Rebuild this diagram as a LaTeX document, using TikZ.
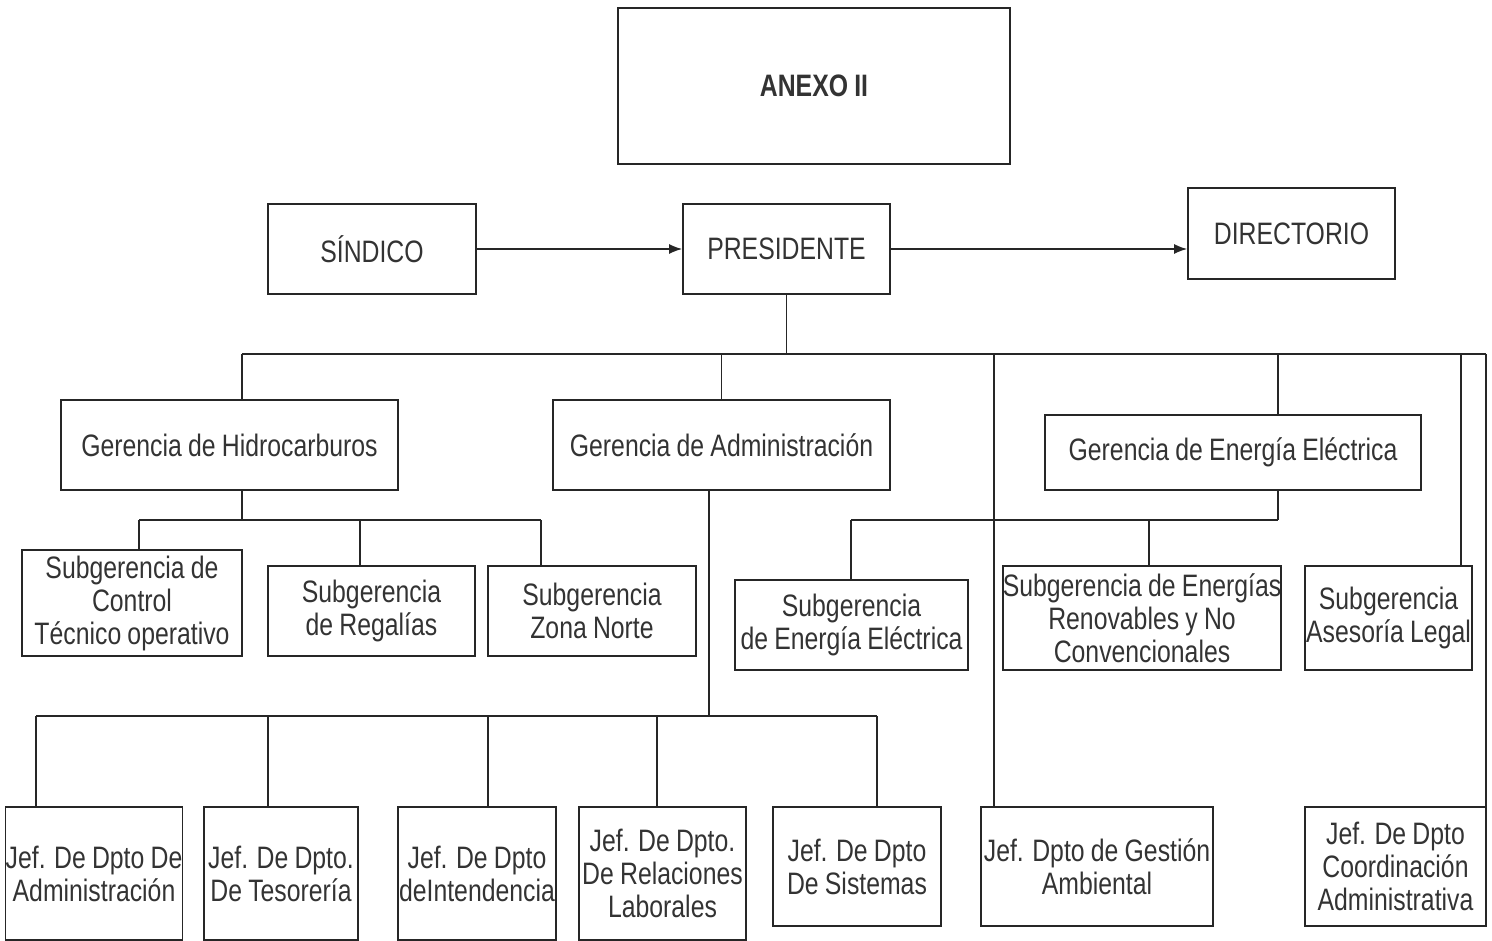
\documentclass[tikz,border=0pt]{standalone}
\usepackage{fontspec}
\setmainfont[FakeStretch=0.8, WordSpace=0.9]{Liberation Sans}
\usetikzlibrary{arrows.meta}
\definecolor{tinta}{HTML}{262626}
\definecolor{letra}{HTML}{333333}
\tikzset{
  caja/.style={draw=tinta, text=letra, rectangle, line width=1.6pt, align=center,
    inner sep=0pt, font=\fontsize{31}{33}\selectfont},
  linea/.style={draw=tinta, line width=1.6pt},
  flecha/.style={draw=tinta, line width=1.6pt, -{Latex[length=13pt,width=10pt]}}
}
\begin{document}
\begin{tikzpicture}[x=1pt,y=-1pt]
    \pgfmathsetmacro{\ybus}{354}
    \pgfmathsetmacro{\ysubA}{520}
    \pgfmathsetmacro{\ysubB}{716}
    \useasboundingbox (0,0) rectangle (1492,941);
    % cabecera
    \node[caja, minimum width=392, minimum height=156] (anexo) at (814,86) {\bfseries ANEXO II};
    \node[caja, minimum width=208, minimum height=90] (sindico) at (372,249) {SÍNDICO};
    \node[caja, minimum width=207, minimum height=90] (pres) at (786.5,249) {PRESIDENTE};
    \node[caja, minimum width=207, minimum height=91] (dir) at (1291.5,233.5) {DIRECTORIO};
    % gerencias
    \node[caja, minimum width=337, minimum height=90] (hidro) at (229.5,445) {Gerencia de Hidrocarburos};
    \node[caja, minimum width=337, minimum height=90] (admin) at (721.5,445) {Gerencia de Administración};
    \node[caja, minimum width=376, minimum height=75] (energia) at (1233,452.5) {Gerencia de Energía  Eléctrica};
    % subgerencias
    \node[caja, minimum width=220, minimum height=106] (sControl) at (132,603) {Subgerencia de\\Control\\Técnico operativo};
    \node[caja, minimum width=207, minimum height=90] (sRegalias) at (371.5,611) {Subgerencia\\de Regalías};
    \node[caja, minimum width=208, minimum height=90] (sNorte) at (592,611) {Subgerencia\\Zona Norte};
    \node[caja, minimum width=233, minimum height=90] (sEnergia) at (851.5,625) {Subgerencia\\de Energía  Eléctrica};
    \node[caja, minimum width=272, minimum height=104] (sRenov) at (1142,618) {Subgerencia de Energías\\Renovables y No\\Convencionales};
    \node[caja, minimum width=167, minimum height=104] (sLegal) at (1388.5,618) {Subgerencia\\Asesoría Legal};
    % jefaturas
    \node[caja, minimum width=168, minimum height=133] (jAdmin) at (94,873.5) {Jef. De Dpto De\\Administración};
    \node[caja, minimum width=154, minimum height=133] (jTesoreria) at (281,873.5) {Jef. De Dpto.\\De Tesorería};
    \node[caja, minimum width=158, minimum height=133] (jIntend) at (477,873.5) {Jef. De Dpto\\deIntendencia};
    \node[caja, minimum width=167, minimum height=133] (jRel) at (662.5,873.5) {Jef. De Dpto.\\De Relaciones\\Laborales};
    \node[caja, minimum width=168, minimum height=119] (jSist) at (857,866.5) {Jef. De Dpto\\De Sistemas};
    \node[caja, minimum width=232, minimum height=119] (jGest) at (1097,866.5) {Jef. Dpto de Gestión\\Ambiental};
    \node[caja, minimum width=181, minimum height=119] (jCoord) at (1395.5,866.5) {Jef. De Dpto\\Coordinación\\Administrativa};
    % flechas
    \draw[flecha] (sindico) -- (pres);
    \draw[flecha] (pres.east) -- (pres.east -| dir.west);
    % bus principal
    \coordinate (bPres) at (786.5,\ybus);
    \draw[linea] (pres.south) -- (bPres);
    \draw[linea] (242,\ybus) -- (1486,\ybus);
    \foreach \x/\n in {242/hidro, 721.5/admin, 994/jGest, 1278/energia, 1461/sLegal, 1486/jCoord}
      {\coordinate (t\n) at (\x,\ybus);
       \draw[linea] (t\n) -- (t\n |- \n.north);}
    % hidrocarburos
    \coordinate (hH) at (242,\ysubA);
    \draw[linea] (hH |- hidro.south) -- (hH);
    \draw[linea] (139,\ysubA) -- (541,\ysubA);
    \foreach \x/\n in {139/sControl, 360/sRegalias, 541/sNorte}
      {\coordinate (t\n) at (\x,\ysubA);
       \draw[linea] (t\n) -- (t\n |- \n.north);}
    % energia
    \coordinate (hE) at (1278,\ysubA);
    \draw[linea] (hE |- energia.south) -- (hE);
    \draw[linea] (851,\ysubA) -- (hE);
    \foreach \x/\n in {851/sEnergia, 1149/sRenov}
      {\coordinate (t\n) at (\x,\ysubA);
       \draw[linea] (t\n) -- (t\n |- \n.north);}
    % administracion
    \coordinate (hA) at (709,\ysubB);
    \draw[linea] (hA |- admin.south) -- (hA);
    \draw[linea] (36,\ysubB) -- (877,\ysubB);
    \foreach \x/\n in {36/jAdmin, 268/jTesoreria, 488/jIntend, 657/jRel, 877/jSist}
      {\coordinate (t\n) at (\x,\ysubB);
       \draw[linea] (t\n) -- (t\n |- \n.north);}
\end{tikzpicture}
\end{document}
